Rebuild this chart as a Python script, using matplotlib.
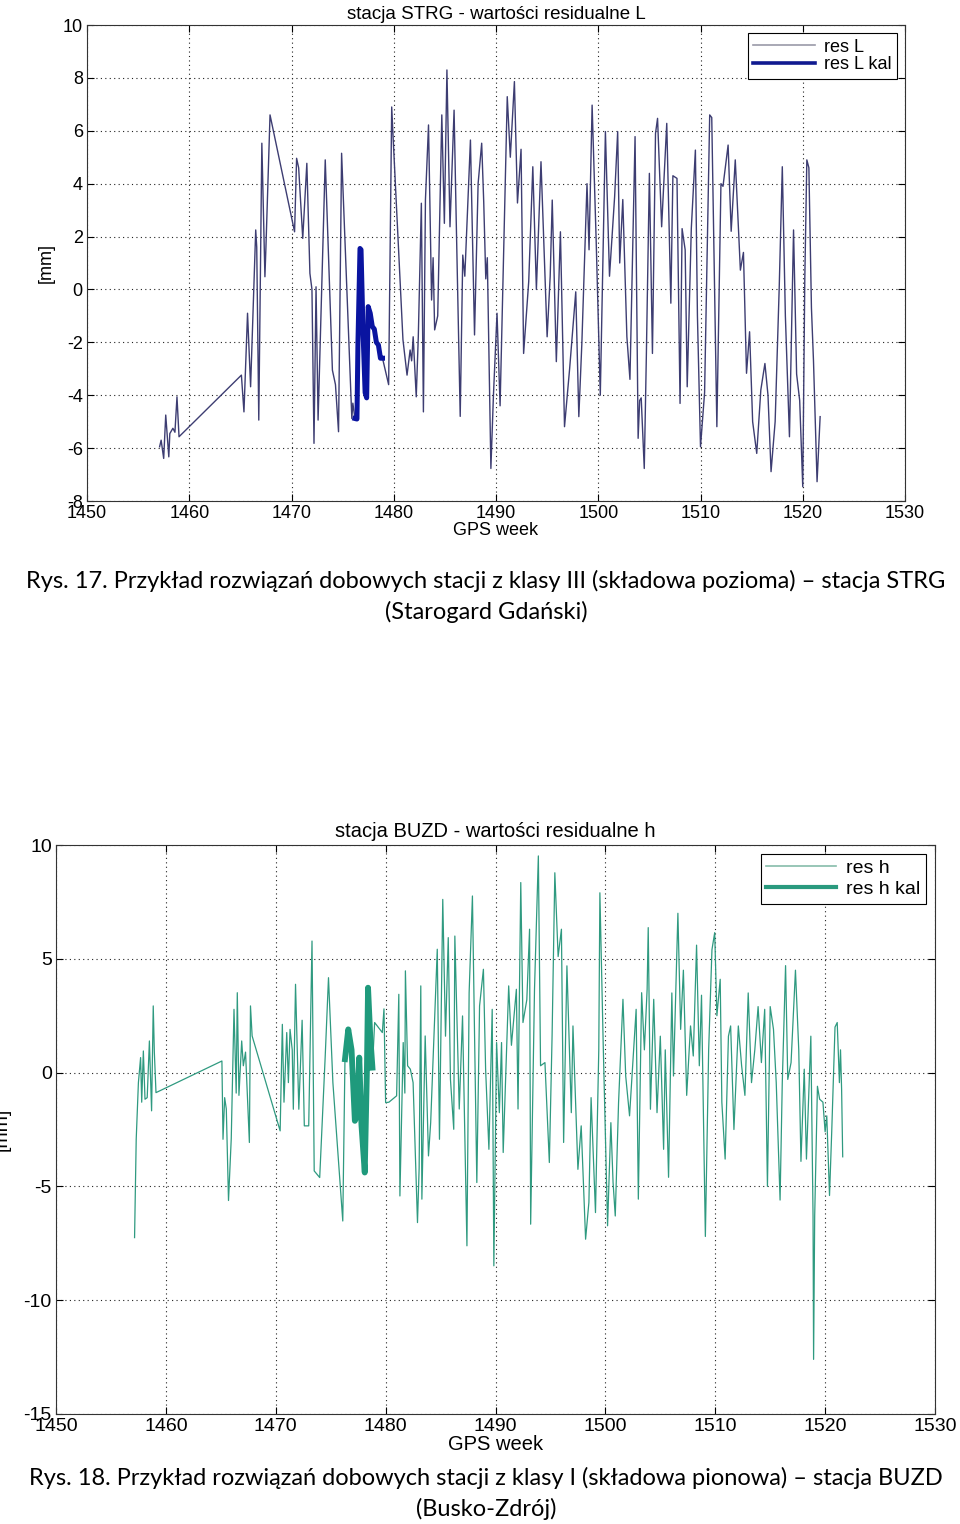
import matplotlib
matplotlib.use("Agg")
import matplotlib.pyplot as plt
from matplotlib.lines import Line2D

plt.rcParams["axes.unicode_minus"] = False

# ---------------- data: station STRG, residuals L ----------------
strg_week = [1457.1, 1457.25, 1457.5, 1457.7, 1458.0, 1458.1, 1458.4, 1458.6, 1458.8, 1459.0,
             1465.1, 1465.35, 1465.7, 1466.0, 1466.5, 1466.6, 1466.8, 1467.1, 1467.4, 1467.5, 1467.9,
             1470.3, 1470.5, 1470.7, 1471.1, 1471.5, 1471.8, 1472.0, 1472.2, 1472.4, 1472.6, 1473.3,
             1474.0, 1474.3, 1474.6, 1474.9, 1475.9, 1476.0, 1476.2,
             1476.4, 1476.5, 1476.7, 1476.8, 1477.0, 1477.2, 1477.35, 1477.5, 1477.7, 1477.9, 1478.1,
             1478.3, 1478.5, 1478.7, 1478.9,
             1479.5, 1479.8, 1479.95, 1480.9, 1481.3, 1481.6, 1481.75, 1481.9, 1482.2, 1482.4, 1482.7,
             1482.9, 1483.1, 1483.4, 1483.7, 1483.85, 1484.0, 1484.3, 1484.7, 1484.95, 1485.2, 1485.5,
             1485.9, 1486.1, 1486.5, 1486.75, 1486.95, 1487.5, 1487.9, 1488.25, 1488.6, 1488.8, 1489.0,
             1489.15, 1489.5, 1489.75, 1490.1, 1490.4, 1491.1, 1491.4, 1491.8, 1492.1, 1492.45, 1492.7,
             1493.2, 1493.6, 1493.95, 1494.4, 1494.7, 1495.0, 1495.3, 1495.5, 1495.9, 1496.3, 1496.7,
             1497.2, 1497.8, 1498.1, 1498.4, 1498.9, 1499.1, 1499.4, 1499.8, 1500.2, 1500.7, 1501.1,
             1501.6, 1501.9, 1502.1, 1502.4, 1502.8, 1503.1, 1503.6, 1503.9, 1504.05, 1504.2, 1504.5,
             1504.7, 1505.0, 1505.3, 1505.6, 1505.8, 1506.2, 1506.7, 1507.1, 1507.3, 1507.7, 1508.0,
             1508.2, 1508.5, 1508.7, 1509.1, 1509.5, 1509.7, 1510.0, 1510.4, 1510.9, 1511.1, 1511.6,
             1512.0, 1512.2, 1512.7, 1513.0, 1513.4, 1513.9, 1514.2, 1514.5, 1514.8, 1515.1, 1515.5,
             1515.9, 1516.3, 1516.6, 1516.9, 1517.3, 1517.7, 1518.0, 1518.3, 1518.7, 1519.1, 1519.4,
             1519.7, 1520.0, 1520.2, 1520.4, 1520.6, 1520.85, 1521.05, 1521.4, 1521.7]
strg_res = [-5.95, -5.7, -6.39, -4.75, -6.33, -5.45, -5.25, -5.4, -4.06, -5.57,
            -3.24, -4.63, -0.9, -3.68, 2.25, 1.6, -4.94, 5.53, 0.48, 1.6, 6.6,
            2.18, 4.96, 4.6, 1.93, 4.77, 0.61, 0.0, -5.82, 0.1, -4.94, 4.9,
            -3.05, -3.6, -5.38, 5.15, -4.88, -4.3, -4.88,
            -4.9, -2.0, 1.55, 1.5, -1.65, -3.9, -4.1, -0.65, -0.9, -1.4, -1.5,
            -2.0, -2.1, -2.6, -2.6,
            -3.6, 6.9, 5.65, -1.9, -3.24, -2.29, -2.7, -1.79, -4.06, -1.8, 3.26,
            -4.63, 3.4, 6.22, -0.4, 1.2, -1.53, -1.0, 6.6, 2.5, 8.3, 2.37,
            6.78, 2.8, -4.8, 1.3, 0.5, 5.65, -1.72, 4.0, 5.53, 3.3, 0.4,
            1.2, -6.77, -4.0, -0.9, -4.4, 7.29, 5.0, 7.86, 3.27, 5.3, -2.42,
            0.3, 4.64, 0.0, 4.83, 1.5, -1.79, 0.5, 3.38, -2.73, 2.18, -5.19,
            -3.0, -0.09, -4.81, -2.0, 4.0, 1.5, 6.97, 1.8, -4.0, 5.97, 0.5,
            3.5, 5.97, 1.0, 3.4, -1.79, -3.4, 5.78, -5.63, -4.2, -4.1, -6.77,
            -2.6, 4.39, -2.42, 5.9, 6.47, 2.37, 6.28, -0.52, 4.3, 4.2, -4.31,
            2.3, 1.5, -3.68, 2.3, 5.27, -1.0, -5.95, -3.9, 6.6, 6.5, -5.19,
            4.0, 3.9, 5.46, 2.2, 4.9, 0.73, 1.4, -3.17, -1.6, -5.0, -6.2,
            -3.8, -2.8, -4.0, -6.89, -5.0, 0.1, 4.64, -1.0, -5.57, 2.25, -3.2,
            -4.2, -7.46, 0.4, 4.9, 4.6, -0.7, -2.7, -7.27, -4.81]
strg_kal_week = [1476.2, 1476.4, 1476.5, 1476.7, 1476.8, 1477.0, 1477.2, 1477.35, 1477.5,
                 1477.7, 1477.9, 1478.1, 1478.3, 1478.5, 1478.7, 1478.9]
strg_kal = [-4.88, -4.9, -2.0, 1.55, 1.5, -1.65, -3.9, -4.1, -0.65,
            -0.9, -1.4, -1.5, -2.0, -2.1, -2.6, -2.6]

# ---------------- data: station BUZD, residuals h ----------------
buzd_week = [1457.15, 1457.3, 1457.5, 1457.7, 1457.8, 1457.95, 1458.1, 1458.3, 1458.5, 1458.7,
             1458.85, 1458.95, 1459.1,
             1465.1, 1465.2, 1465.35, 1465.5, 1465.7, 1465.95, 1466.2, 1466.4, 1466.5, 1466.65,
             1466.9, 1467.05, 1467.25, 1467.6, 1467.7, 1467.85,
             1470.4, 1470.6, 1470.75, 1471.0, 1471.15, 1471.3, 1471.5, 1471.6, 1471.8, 1472.1,
             1472.4, 1472.6, 1473.0, 1473.3, 1473.5, 1474.0, 1474.5, 1474.8, 1475.2, 1476.1, 1476.3,
             1476.6, 1476.9, 1477.2, 1477.4, 1477.6, 1477.8, 1478.1, 1478.3, 1478.4, 1478.6, 1478.8,
             1479.0, 1479.7, 1479.85, 1480.0, 1480.3, 1481.0, 1481.2, 1481.3, 1481.6, 1481.75,
             1481.8, 1482.0, 1482.25, 1482.5, 1482.9, 1483.05, 1483.2, 1483.3, 1483.6, 1483.9,
             1484.1, 1484.7, 1484.9, 1485.2, 1485.45, 1485.7, 1485.9, 1486.2, 1486.3, 1486.7,
             1487.0, 1487.4, 1487.6, 1487.9, 1488.3, 1488.55, 1488.9, 1489.1, 1489.4, 1489.7,
             1489.85, 1490.1, 1490.35, 1490.55, 1490.7, 1491.2, 1491.45, 1491.9, 1492.05, 1492.3,
             1492.5, 1492.85, 1493.1, 1493.2, 1493.55, 1493.9, 1494.1, 1494.5, 1494.9, 1495.15,
             1495.4, 1495.7, 1496.0, 1496.2, 1496.5, 1496.9, 1497.05, 1497.5, 1497.8, 1498.2,
             1498.5, 1498.7, 1499.1, 1499.4, 1499.5, 1499.8, 1500.2, 1500.5, 1500.7, 1500.9,
             1501.2, 1501.6, 1501.85, 1502.2, 1502.8, 1503.0, 1503.3, 1503.55, 1503.8, 1503.9,
             1504.1, 1504.4, 1504.7, 1505.0, 1505.3, 1505.45, 1505.75, 1506.05, 1506.2, 1506.6,
             1506.85, 1507.1, 1507.4, 1507.75, 1508.0, 1508.3, 1508.55, 1508.75, 1509.1, 1509.4,
             1509.7, 1509.95, 1510.15, 1510.45, 1510.6, 1510.9, 1511.2, 1511.4, 1511.7, 1512.1,
             1512.4, 1512.7, 1513.0, 1513.3, 1513.6, 1513.9, 1514.2, 1514.5, 1514.75, 1515.0,
             1515.3, 1515.55, 1515.9, 1516.1, 1516.4, 1516.6, 1516.9, 1517.3, 1517.6, 1517.8,
             1518.1, 1518.3, 1518.7, 1518.9, 1518.95, 1519.05, 1519.3, 1519.5, 1519.8, 1520.0,
             1520.15, 1520.4, 1520.6, 1520.9, 1521.1, 1521.3, 1521.4, 1521.5, 1521.6]
buzd_res = [-7.25, -2.93, -0.44, 0.66, -1.3, 0.95, -1.17, -1.1, 1.39, -1.68,
            2.93, 0.9, -0.88,
            0.51, -2.93, -1.1, -1.6, -5.62, -2.9, 2.78, -0.9, 3.51, -1.0,
            1.39, 0.3, 0.9, -3.07, 2.93, 1.61,
            -2.56, 2.12, -1.3, 1.76, -0.44, 1.9, 1.0, -1.61, 3.88, -1.61,
            2.3, -2.34, -2.34, 5.78, -4.32, -4.61, 0.7, 4.17, -0.44, -6.52, 0.59,
            1.9, 1.0, -2.12, -1.9, 0.66, -2.3, -4.39, 0.2, 3.73, 1.6, 0.22,
            2.2, 1.76, 2.8, -1.32, -1.3, -1.02, 3.44, -5.42, 1.32, -0.9,
            4.47, 0.3, 0.15, -0.44, -6.59, -4.2, 3.81, -5.56, 1.61, -3.66,
            -2.2, 5.42, -2.93, 7.61, 1.6, 5.93, -0.3, -2.49, 6.0, -1.6,
            2.49, -7.61, 3.51, 7.76, -4.83, 2.93, 4.54, 0.15, -3.37, 2.78,
            -8.49, 1.32, -1.76, 1.32, -3.51, 3.81, 1.2, 3.66, -1.6, 8.35,
            2.2, 3.2, 6.3, -6.66, 3.66, 9.52, 0.3, 0.44, -3.95, 1.61,
            8.78, 5.1, 6.3, -3.07, 4.69, -1.76, 2.05, -4.25, -2.34, -7.32,
            -5.7, -1.1, -6.15, 1.0, 7.9, 1.3, -6.73, -2.2, -4.83, -6.3,
            -1.32, 3.22, -0.15, -1.9, 2.78, -5.56, 3.51, 1.0, 3.66, 6.37,
            -1.61, 3.22, -1.76, 1.6, -3.37, 1.0, -4.6, 3.5, -0.15, 7.0,
            1.9, 4.5, -1.0, 2.05, 0.73, 5.6, 0.3, 3.4, -7.2, 1.0,
            5.4, 6.15, 2.5, 4.1, -1.3, -3.8, 1.6, 2.05, -2.5, 2.05,
            0.3, -1.0, 3.5, -0.44, 1.0, 2.9, 0.44, 2.78, -5.0, 2.9,
            1.9, -0.44, -5.6, -0.44, 4.7, -0.3, 0.44, 4.5, 1.0, -3.9,
            0.15, -3.8, 1.6, -6.3, -12.6, -6.3, -0.6, -1.17, -1.3, -2.6,
            -1.9, -5.4, -2.6, 2.0, 2.2, -0.44, 1.0, -0.73, -3.7]
buzd_kal_week = [1476.3, 1476.6, 1476.9, 1477.2, 1477.4, 1477.6, 1477.8, 1478.1, 1478.3,
                 1478.4, 1478.6, 1478.8]
buzd_kal = [0.59, 1.9, 1.0, -2.12, -1.9, 0.66, -2.3, -4.39, 0.2, 3.73, 1.6, 0.22]

x_ticks = [1450, 1460, 1470, 1480, 1490, 1500, 1510, 1520, 1530]
strg_yticks = [-8, -6, -4, -2, 0, 2, 4, 6, 8, 10]
buzd_yticks = [-15, -10, -5, 0, 5, 10]

FONT = ["Liberation Sans", "DejaVu Sans"]
CAPFONT = ["Lato", "DejaVu Sans"]

W, H = 960, 1524
fig = plt.figure(figsize=(W / 100, H / 100), dpi=100)
fig.patch.set_facecolor("white")


def style_axes(ax, yticks, ylim, fs):
    ax.set_xlim(1450, 1530)
    ax.set_ylim(*ylim)
    ax.set_xticks(x_ticks)
    ax.set_yticks(yticks)
    ax.tick_params(direction="in", top=True, right=True, length=5, width=0.8,
                   labelsize=fs, pad=3)
    for lab in ax.get_xticklabels() + ax.get_yticklabels():
        lab.set_family(FONT)
    ax.grid(True, linestyle=(0, (1, 3)), color="#222222", linewidth=0.8)
    for sp in ax.spines.values():
        sp.set_linewidth(0.8)
        sp.set_color("#333333")


# --- top chart ---
ax1 = fig.add_axes([87 / W, 1 - 501 / H, (905 - 87) / W, (501 - 25) / H])
ax1.plot(strg_week, strg_res, color="#3d3d72", linewidth=1.0, label="res L")
ax1.plot(strg_kal_week, strg_kal, color="#0a14a0", linewidth=3.6, label="res L kal")
style_axes(ax1, strg_yticks, (-8, 10), 13)
ax1.set_title("stacja STRG - wartości residualne L", fontsize=13.5, family=FONT, pad=4)
ax1.set_xlabel("GPS week", fontsize=13, family=FONT, labelpad=0)
ax1.set_ylabel("[mm]", fontsize=13, family=FONT, labelpad=6)
h1 = [Line2D([], [], color="#9a9aa8", linewidth=1.2),
      Line2D([], [], color="#101a90", linewidth=2.6)]
leg1 = ax1.legend(h1, ["res L", "res L kal"], loc="upper right", prop={"family": FONT, "size": 13},
                  frameon=True, fancybox=False, edgecolor="black", framealpha=1,
                  handlelength=3.4, handletextpad=0.5, borderaxespad=0.45,
                  labelspacing=0.05, borderpad=0.3)
leg1.get_frame().set_linewidth(0.8)

# --- bottom chart ---
ax2 = fig.add_axes([56 / W, 1 - 1414 / H, (935 - 56) / W, (1414 - 845) / H])
ax2.plot(buzd_week, buzd_res, color="#2f9a80", linewidth=0.9, label="res h")
ax2.plot(buzd_kal_week, buzd_kal, color="#1f9a7c", linewidth=4.2, label="res h kal")
style_axes(ax2, buzd_yticks, (-15, 10), 14)
ax2.set_title("stacja BUZD - wartości residualne h", fontsize=14.5, family=FONT, pad=6)
ax2.set_xlabel("GPS week", fontsize=14.5, family=FONT, labelpad=0)
ax2.set_ylabel("[mm]", fontsize=14, family=FONT)
ax2.yaxis.set_label_coords(-0.052, 0.5)
h2 = [Line2D([], [], color="#86bcaa", linewidth=1.2),
      Line2D([], [], color="#2a9a7e", linewidth=3.0)]
leg2 = ax2.legend(h2, ["res h", "res h kal"], loc="upper right", prop={"family": FONT, "size": 14},
                  frameon=True, fancybox=False, edgecolor="black", framealpha=1,
                  handlelength=3.6, handletextpad=0.5, borderaxespad=0.45,
                  labelspacing=0.15, borderpad=0.3)
leg2.get_frame().set_linewidth(0.8)

# --- captions ---
cap_fs = 17
fig.text(486 / W, 1 - 581 / H,
         "Rys. 17. Przykład rozwiązań dobowych stacji z klasy III (składowa pozioma) – stacja STRG",
         ha="center", va="center", fontsize=cap_fs, family=CAPFONT)
fig.text(486 / W, 1 - 612 / H, "(Starogard Gdański)",
         ha="center", va="center", fontsize=cap_fs, family=CAPFONT)
fig.text(486 / W, 1 - 1478 / H,
         "Rys. 18. Przykład rozwiązań dobowych stacji z klasy I (składowa pionowa) – stacja BUZD",
         ha="center", va="center", fontsize=cap_fs, family=CAPFONT)
fig.text(486 / W, 1 - 1509 / H, "(Busko-Zdrój)",
         ha="center", va="center", fontsize=cap_fs, family=CAPFONT)

fig.savefig("out.png", dpi=100, facecolor="white")
